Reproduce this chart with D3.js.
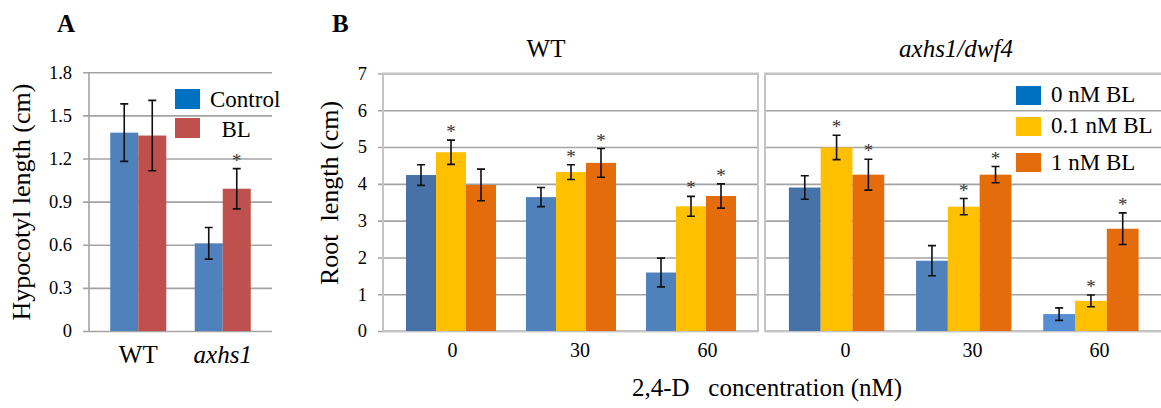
<!DOCTYPE html>
<html>
<head>
<meta charset="utf-8">
<script src="https://cdn.jsdelivr.net/npm/d3@7"></script>
<style>
  body { margin: 0; background: #fff; }
  svg text { font-family: "Liberation Serif", "Times New Roman", serif; fill: #000; white-space: pre; }
</style>
</head>
<body>
<svg id="chart" width="1161" height="408"></svg>
<script>
'use strict';

// Panel A - hypocotyl length (cm)
const genotypes = ["WT", "axhs1"];
const hypoSeries = ["Control", "BL"];
const hypoLegend = ["Control", "  BL"];
const hypoControl = [1.38, 0.61];
const hypoControlErr = [0.20, 0.11];
const hypoBL = [1.36, 0.99];
const hypoBLErr = [0.245, 0.14];
const hypoControlStar = [false, false];
const hypoBLStar = [false, true];
const hypoTicks = [0, 0.3, 0.6, 0.9, 1.2, 1.5, 1.8];

// Panel B - root length (cm) vs 2,4-D concentration (nM)
const doses = ["0", "30", "60"];
const blSeries = ["0 nM BL", "0.1 nM BL", "1 nM BL"];
const rootTicks = [0, 1, 2, 3, 4, 5, 6, 7];

const wtRoot0 = [4.24, 3.64, 1.59];
const wtRoot0Err = [0.28, 0.26, 0.39];
const wtRoot01 = [4.86, 4.32, 3.39];
const wtRoot01Err = [0.33, 0.20, 0.27];
const wtRoot1 = [3.97, 4.57, 3.67];
const wtRoot1Err = [0.43, 0.39, 0.33];
const wtStar0 = [false, false, false];
const wtStar01 = [true, true, true];
const wtStar1 = [false, true, true];

const mutRoot0 = [3.90, 1.91, 0.46];
const mutRoot0Err = [0.32, 0.41, 0.17];
const mutRoot01 = [4.99, 3.38, 0.82];
const mutRoot01Err = [0.33, 0.22, 0.16];
const mutRoot1 = [4.25, 4.25, 2.78];
const mutRoot1Err = [0.42, 0.22, 0.43];
const mutStar0 = [false, false, false];
const mutStar01 = [true, true, true];
const mutStar1 = [true, true, true];

// colours
const hypoColors = ["#4f81bd", "#c0504d"];
const hypoLegendColors = ["#0070c0", "#c0504d"];
const wtBlue = ["#4672a8", "#4f81bd", "#4f81bd"];
const mutBlue = ["#4672a8", "#4f81bd", "#558ed5"];
const blColors = [null, "#ffc000", "#e46c0a"];
const blLegendColors = ["#0070c0", "#ffc000", "#e46c0a"];

const gridColor = "#a3a3a3";
const frameColor = "#c4c4c4";

const svg = d3.select("#chart");

function makeRows(groups, series, values, errs, stars) {
    let rows = [];
    groups.forEach((grp, i) => {
        series.forEach((s, j) => {
            rows.push({ group: grp, gi: i, series: s, sj: j,
                value: values[j][i], err: errs[j][i], star: stars[j][i] });
        });
    });
    return rows;
}

function drawGrid(x0, x1, y, ticks, labels, fmt) {
    let axis = d3.axisLeft(y)
        .tickValues(ticks)
        .tickSize(-(x1 - x0))
        .tickPadding(11)
        .tickFormat(labels ? fmt : "");
    let g = svg.append("g")
        .attr("transform", "translate(" + x0 + ",0)")
        .call(axis);
    g.select(".domain").remove();
    g.selectAll(".tick line").attr("stroke", gridColor).attr("stroke-width", 1.6);
    g.selectAll(".tick text")
        .style("font-size", "18.5px")
        .style("font-family", '"Liberation Serif", serif');
    return g;
}

function drawBars(rows, x, inner, y, color) {
    let g = svg.append("g");
    g.selectAll("rect")
        .data(rows)
        .join("rect")
        .attr("x", d => x(d.group) + inner(d.series))
        .attr("y", d => y(d.value))
        .attr("width", inner.bandwidth())
        .attr("height", d => y(0) - y(d.value))
        .attr("fill", color);

    let cx = d => x(d.group) + inner(d.series) + inner.bandwidth() / 2;

    g.selectAll("path.err")
        .data(rows)
        .join("path")
        .attr("class", "err")
        .attr("fill", "none")
        .attr("stroke", "#111")
        .attr("stroke-width", 1.6)
        .attr("d", d => {
            let c = cx(d), t = y(d.value + d.err), b = y(d.value - d.err);
            return "M" + (c - 4) + "," + t + "H" + (c + 4) +
                   "M" + c + "," + t + "V" + b +
                   "M" + (c - 4) + "," + b + "H" + (c + 4);
        });

    g.selectAll("text.star")
        .data(rows.filter(d => d.star))
        .join("text")
        .attr("class", "star")
        .attr("x", d => cx(d))
        .attr("y", d => y(d.value + d.err) - 2)
        .attr("text-anchor", "middle")
        .style("font-size", "19px")
        .style("fill", "#333")
        .text("*");
}

function drawLegend(names, colors, sx, rowY, tx, baseY, size) {
    let g = svg.append("g");
    names.forEach((n, i) => {
        g.append("rect")
            .attr("x", sx).attr("y", rowY[i])
            .attr("width", 25).attr("height", size)
            .attr("fill", colors[i]);
        g.append("text")
            .attr("x", tx).attr("y", baseY[i])
            .style("font-size", "23px")
            .text(n);
    });
}

// ---------------- Panel A ----------------
function drawPanelA() {
    let y = d3.scaleLinear().domain([0, 1.8]).range([331, 72.3]);
    let x = d3.scaleBand().domain(genotypes).range([96, 265])
        .paddingInner(0.337).paddingOuter(0.1685);
    let inner = d3.scaleBand().domain(hypoSeries).range([0, x.bandwidth()]);

    drawGrid(83, 272, y, hypoTicks, true, d => d === 0 ? "0" : d3.format(".1f")(d));

    svg.append("line")
        .attr("x1", 89).attr("x2", 89)
        .attr("y1", y(1.8)).attr("y2", y(0))
        .attr("stroke", gridColor).attr("stroke-width", 1.6);

    let rows = makeRows(genotypes, hypoSeries, [hypoControl, hypoBL],
        [hypoControlErr, hypoBLErr], [hypoControlStar, hypoBLStar]);
    drawBars(rows, x, inner, y, d => hypoColors[d.sj]);

    let xAxis = d3.axisBottom(x).tickSize(0).tickPadding(14);
    let gx = svg.append("g").attr("transform", "translate(0,331)").call(xAxis);
    gx.select(".domain").remove();
    gx.selectAll(".tick text")
        .style("font-size", "25px")
        .style("font-family", '"Liberation Serif", serif')
        .style("font-style", d => d === "WT" ? "normal" : "italic");

    drawLegend(hypoLegend, hypoLegendColors, 175, [89, 118], 210, [107, 137], 20);

    svg.append("text")
        .attr("transform", "translate(30,202) rotate(-90)")
        .attr("text-anchor", "middle")
        .style("font-size", "26px")
        .text("Hypocotyl length (cm)");

    svg.append("text")
        .attr("x", 57).attr("y", 32)
        .style("font-size", "25px").style("font-weight", "bold")
        .text("A");
}

// ---------------- Panel B ----------------
function drawRootPanel(opts) {
    let y = d3.scaleLinear().domain([0, 7]).range([331, 73.5]);
    let x = d3.scaleBand().domain(doses).range(opts.range)
        .paddingInner(0.25).paddingOuter(0.125);
    let inner = d3.scaleBand().domain(blSeries).range([0, x.bandwidth()]);

    drawGrid(opts.gridX0, opts.gridX1, y, rootTicks, opts.labels, d3.format("d"));

    svg.append("rect")
        .attr("x", opts.frameX0).attr("y", y(7))
        .attr("width", opts.frameX1 - opts.frameX0)
        .attr("height", y(0) - y(7))
        .attr("fill", "none")
        .attr("stroke", frameColor).attr("stroke-width", 2);

    let rows = makeRows(doses, blSeries, opts.values, opts.errs, opts.stars);
    drawBars(rows, x, inner, y, d => d.sj === 0 ? opts.blue[d.gi] : blColors[d.sj]);

    let xl = d3.scalePoint().domain(doses).range(opts.labelRange);
    let gx = svg.append("g").attr("transform", "translate(0,331)")
        .call(d3.axisBottom(xl).tickSize(0).tickPadding(12));
    gx.select(".domain").remove();
    gx.selectAll(".tick text")
        .style("font-size", "20px")
        .style("font-family", '"Liberation Serif", serif');

    svg.append("text")
        .attr("x", opts.titleX).attr("y", 57)
        .attr("text-anchor", "middle")
        .style("font-size", "25px")
        .style("font-style", opts.italic ? "italic" : "normal")
        .text(opts.title);
}

function drawPanelB() {
    drawRootPanel({
        range: [391, 751], gridX0: 378, gridX1: 758, frameX0: 383, frameX1: 758,
        labels: true, labelRange: [452, 707], blue: wtBlue,
        values: [wtRoot0, wtRoot01, wtRoot1],
        errs: [wtRoot0Err, wtRoot01Err, wtRoot1Err],
        stars: [wtStar0, wtStar01, wtStar1],
        title: "WT", titleX: 546, italic: false
    });
    drawRootPanel({
        range: [773, 1154.5], gridX0: 765, gridX1: 1161, frameX0: 765, frameX1: 1164,
        labels: false, labelRange: [845, 1099], blue: mutBlue,
        values: [mutRoot0, mutRoot01, mutRoot1],
        errs: [mutRoot0Err, mutRoot01Err, mutRoot1Err],
        stars: [mutStar0, mutStar01, mutStar1],
        title: "axhs1/dwf4", titleX: 956, italic: true
    });

    drawLegend(blSeries, blLegendColors, 1016, [86, 117, 153], 1051, [102, 133, 170], 19);

    svg.append("text")
        .attr("transform", "translate(338,193) rotate(-90)")
        .attr("text-anchor", "middle")
        .style("font-size", "26px")
        .text("Root  length (cm)");

    svg.append("text")
        .attr("x", 767).attr("y", 396)
        .attr("text-anchor", "middle")
        .style("font-size", "25px")
        .text("2,4-D   concentration (nM)");

    svg.append("text")
        .attr("x", 332).attr("y", 32)
        .style("font-size", "25px").style("font-weight", "bold")
        .text("B");
}

drawPanelA();
drawPanelB();
</script>
</body>
</html>
